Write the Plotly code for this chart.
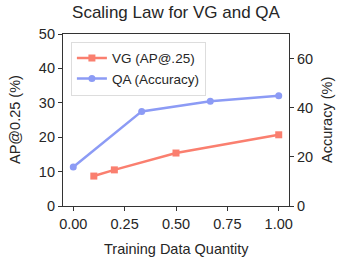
import plotly.graph_objects as go

vg_x = [0.1, 0.2, 0.5, 1.0]
vg_y = [8.7, 10.5, 15.4, 20.7]
qa_x = [0.0, 0.333, 0.667, 1.0]
qa_y = [15.9, 38.5, 42.6, 44.9]

red = "#FA7F6F"
blue = "#8C9BF5"
font = "Liberation Sans, Arial, sans-serif"
txt = "#262626"

W, H = 337, 257
L, T = 63, 34
PW, PH = 226, 172

fig = go.Figure()
fig.add_trace(go.Scatter(x=vg_x, y=vg_y, mode="lines+markers", name="VG (AP@.25)",
                         line=dict(color=red, width=2.5),
                         marker=dict(symbol="square", size=7, color=red), yaxis="y"))
fig.add_trace(go.Scatter(x=qa_x, y=qa_y, mode="lines+markers", name="QA (Accuracy)",
                         line=dict(color=blue, width=2.5),
                         marker=dict(symbol="circle", size=7, color=blue), yaxis="y2"))

axis_common = dict(showgrid=False, zeroline=False, ticks="outside", ticklen=4,
                   tickcolor="#333", linecolor="#333", linewidth=1.2,
                   tickfont=dict(size=14.5, color=txt), showline=True, automargin=False)

fig.update_layout(
    width=W, height=H,
    margin=dict(l=L, r=W - L - PW, t=T, b=H - T - PH, autoexpand=False),
    paper_bgcolor="white", plot_bgcolor="white",
    font=dict(family=font, color=txt),
    title=dict(text="Scaling Law for VG and QA", x=176 / W, xanchor="center",
               xref="container", y=1 - 12.5 / H, yanchor="middle",
               font=dict(size=17, color=txt)),
    xaxis=dict(range=[-0.05, 1.05], tickvals=[0, 0.25, 0.5, 0.75, 1.0],
               ticktext=["0.00", "0.25", "0.50", "0.75", "1.00"], mirror=True,
               **axis_common),
    yaxis=dict(range=[0, 50], tickvals=[0, 10, 20, 30, 40, 50], **axis_common),
    yaxis2=dict(range=[0, 70], tickvals=[0, 20, 40, 60], overlaying="y", side="right",
                **axis_common),
    legend=dict(x=0.035, y=0.955, xanchor="left", yanchor="top",
                bordercolor="#dddddd", borderwidth=1, bgcolor="rgba(255,255,255,0.8)",
                font=dict(size=13.5, color=txt), tracegroupgap=0),
    showlegend=True,
    annotations=[
        dict(text="Training Data Quantity", xref="paper", yref="paper", x=0.5,
             y=(206 - 249) / 172, xanchor="center", yanchor="middle", showarrow=False,
             font=dict(size=14.5, color=txt)),
        dict(text="AP@0.25 (%)", xref="paper", yref="paper", x=(15 - 63) / 226,
             y=0.5, xanchor="center", yanchor="middle", textangle=-90, showarrow=False,
             font=dict(size=14.5, color=txt)),
        dict(text="Accuracy (%)", xref="paper", yref="paper", x=(327 - 63) / 226,
             y=0.5, xanchor="center", yanchor="middle", textangle=-90, showarrow=False,
             font=dict(size=14.5, color=txt)),
    ],
)
fig.write_html("out.html", config={"displayModeBar": False},
               post_script="document.body.style.margin='0';")
